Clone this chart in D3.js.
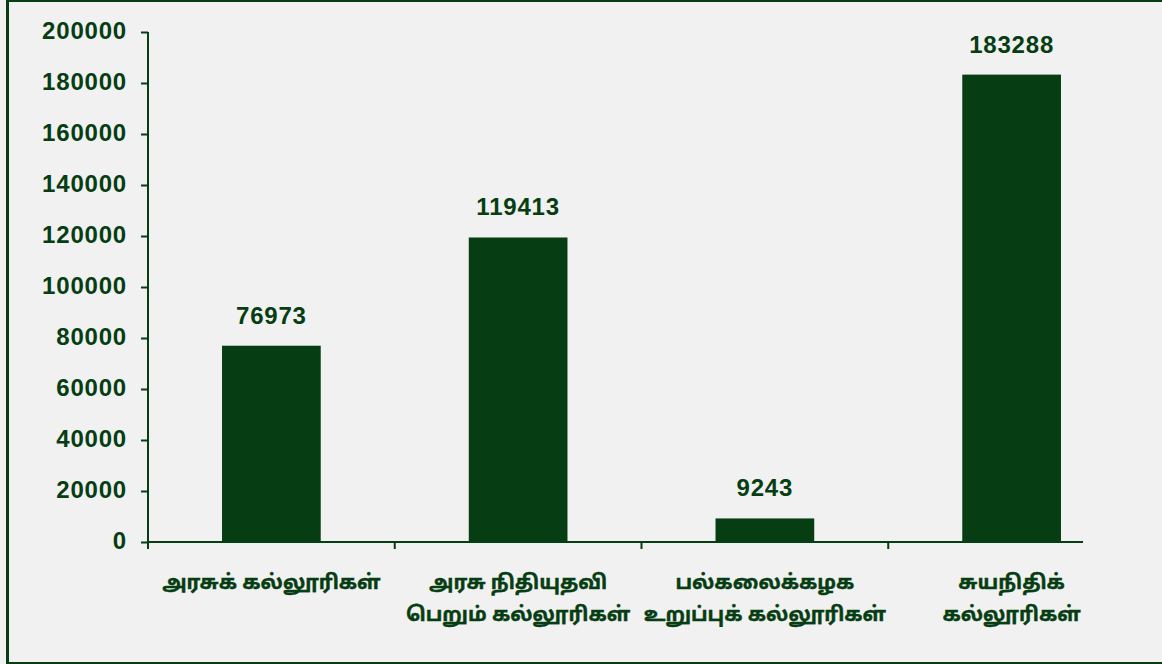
<!DOCTYPE html>
<html>
<head>
<meta charset="utf-8">
<script src="https://cdn.jsdelivr.net/npm/d3@7"></script>
<style>
  html, body { margin: 0; padding: 0; background: #f1f1f1; }
  svg { display: block; }
</style>
</head>
<body>
<div class="chart"></div>
<script>
// Tamil college enrolment chart

var categories = [
    ['அரசுக் கல்லூரிகள்'],
    ['அரசு நிதியுதவி', 'பெறும் கல்லூரிகள்'],
    ['பல்கலைக்கழக', 'உறுப்புக் கல்லூரிகள்'],
    ['சுயநிதிக்', 'கல்லூரிகள்']
]
var values = [76973, 119413, 9243, 183288]
var yTicks = [0, 20000, 40000, 60000, 80000, 100000, 120000, 140000, 160000, 180000, 200000]

var green = '#063d12'
var svgWidth = 1162
var svgHeight = 664

var margin = { top: 32, left: 148, bottom: 122 }
var height = svgHeight - margin.top - margin.bottom
var plotWidth = 987

var svg = d3.select('.chart')
    .append('svg')
    .attr('width', svgWidth)
    .attr('height', svgHeight)

// frame
svg.append('rect').attr('x', 0).attr('y', 0).attr('width', svgWidth).attr('height', svgHeight).attr('fill', '#f1f1f1')
svg.append('rect').attr('x', 6).attr('y', 0).attr('width', 3).attr('height', svgHeight).attr('fill', green)
svg.append('rect').attr('x', 6).attr('y', 0).attr('width', svgWidth - 6).attr('height', 2).attr('fill', green)
svg.append('rect').attr('x', 6).attr('y', svgHeight - 2).attr('width', svgWidth - 6).attr('height', 2).attr('fill', green)

var chartGroup = svg.append('g')
    .attr('transform', `translate(${margin.left}, ${margin.top})`)

var x = d3.scaleBand()
    .domain(d3.range(categories.length))
    .range([0, plotWidth])
    .paddingInner(0.6)
    .paddingOuter(0.3)

var y = d3.scaleLinear()
    .domain([0, 200000])
    .range([height, 0])

var numFont = '"Liberation Sans", Arial, sans-serif'

// Y axis
var yAxis = chartGroup.append('g')
    .call(d3.axisLeft(y).tickValues(yTicks).tickSize(7).tickPadding(14).tickFormat(d3.format('d')))
yAxis.selectAll('path, line').attr('stroke', green).attr('stroke-width', 2)
yAxis.selectAll('text')
    .attr('fill', green)
    .attr('font-family', numFont)
    .attr('font-size', '24px')
    .attr('font-weight', 'bold')
    .attr('letter-spacing', '0.8px')
    .attr('dy', '0.26em')
yAxis.select('.domain').attr('d', `M0,${height}V0`)

// X axis line and boundary ticks
chartGroup.append('line')
    .attr('x1', 0).attr('x2', 935)
    .attr('y1', height).attr('y2', height)
    .attr('stroke', green).attr('stroke-width', 2)
chartGroup.selectAll('.xtick')
    .data(d3.range(categories.length))
    .enter().append('line')
    .attr('class', 'xtick')
    .attr('x1', d => d * x.step()).attr('x2', d => d * x.step())
    .attr('y1', height).attr('y2', height + 7)
    .attr('stroke', green).attr('stroke-width', 2)

// Bars
chartGroup.selectAll('.bar')
    .data(values)
    .enter().append('rect')
    .attr('class', 'bar')
    .attr('x', (d, i) => x(i))
    .attr('y', d => y(d))
    .attr('width', x.bandwidth())
    .attr('height', d => height - y(d))
    .attr('fill', green)

// Value labels
chartGroup.selectAll('.val')
    .data(values)
    .enter().append('text')
    .attr('class', 'val')
    .attr('x', (d, i) => x(i) + x.bandwidth() / 2)
    .attr('y', d => y(d) - 22)
    .attr('text-anchor', 'middle')
    .attr('fill', green)
    .attr('font-family', numFont)
    .attr('font-size', '24px')
    .attr('font-weight', 'bold')
    .attr('letter-spacing', '0.8px')
    .text(d => d)

// Category labels
var cat = chartGroup.selectAll('.cat')
    .data(categories)
    .enter().append('text')
    .attr('class', 'cat')
    .attr('x', (d, i) => x(i) + x.bandwidth() / 2)
    .attr('y', height + 47)
    .attr('text-anchor', 'middle')
    .attr('fill', green)
    .attr('stroke', green)
    .attr('stroke-width', 0.4)
    .attr('font-family', '"Noto Sans Tamil", "Lohit Tamil", "Latha", sans-serif')
    .attr('font-size', '20px')
    .attr('font-weight', 'bold')
cat.selectAll('tspan')
    .data(d => d)
    .enter().append('tspan')
    .attr('x', function () { return d3.select(this.parentNode).attr('x') })
    .attr('dy', (d, i) => i === 0 ? 0 : 32)
    .text(d => d)
</script>
</body>
</html>
